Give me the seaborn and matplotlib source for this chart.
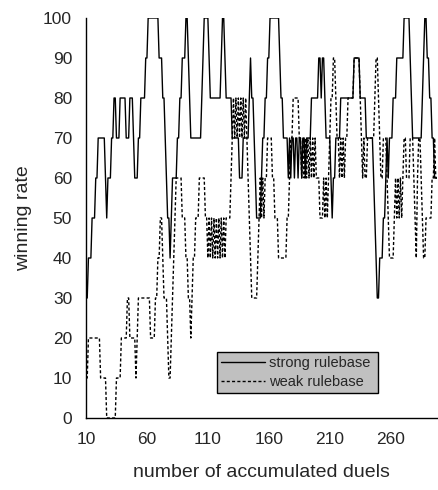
import matplotlib
matplotlib.use("Agg")
import matplotlib.pyplot as plt
import seaborn as sns
import pandas as pd

# winning rate (%) over the last duels, one value per duel from 10 to 298
strong = [
    30, 30, 40, 40, 40, 50, 50, 50, 60, 60,
    70, 70, 70, 70, 70, 70, 60, 50, 60, 60,
    60, 70, 70, 80, 80, 70, 70, 70, 80, 80,
    80, 80, 80, 70, 70, 70, 80, 80, 80, 70,
    60, 60, 60, 70, 70, 80, 80, 80, 80, 90,
    90, 100, 100, 100, 100, 100, 100, 100, 100, 100,
    90, 90, 90, 80, 80, 70, 60, 50, 50, 40,
    50, 60, 60, 60, 60, 70, 70, 80, 80, 90,
    90, 90, 100, 100, 90, 80, 70, 70, 70, 70,
    70, 70, 70, 70, 70, 80, 90, 100, 100, 100,
    100, 90, 80, 80, 80, 80, 80, 80, 80, 80,
    80, 90, 100, 100, 90, 80, 80, 80, 80, 80,
    70, 70, 70, 70, 70, 70, 60, 60, 60, 70,
    70, 70, 70, 70, 80, 90, 80, 80, 70, 60,
    50, 50, 50, 50, 60, 70, 70, 80, 80, 90,
    90, 100, 100, 100, 100, 100, 100, 100, 100, 90,
    80, 80, 70, 70, 70, 70, 60, 70, 60, 70,
    70, 60, 70, 70, 60, 70, 70, 60, 70, 70,
    60, 70, 70, 70, 70, 80, 80, 80, 80, 80,
    80, 90, 90, 80, 90, 90, 80, 70, 70, 70,
    70, 60, 50, 60, 60, 70, 70, 70, 70, 80,
    80, 80, 80, 80, 80, 80, 80, 80, 80, 80,
    90, 90, 90, 90, 90, 80, 80, 80, 80, 80,
    70, 70, 70, 70, 70, 70, 60, 50, 40, 30,
    30, 40, 40, 40, 50, 50, 60, 70, 60, 70,
    70, 70, 80, 80, 80, 90, 90, 90, 90, 90,
    90, 100, 100, 100, 100, 100, 90, 80, 70, 70,
    70, 70, 70, 70, 70, 70, 80, 90, 100, 100,
    90, 90, 80, 80, 70, 70, 60, 60, 60,
]

weak = [
    10, 10, 20, 20, 20, 20, 20, 20, 20, 20,
    20, 20, 10, 10, 10, 10, 10, 0, 0, 0,
    0, 0, 0, 0, 0, 10, 10, 10, 10, 20,
    20, 20, 20, 20, 30, 30, 20, 20, 20, 20,
    20, 10, 20, 30, 30, 30, 30, 30, 30, 30,
    30, 30, 30, 20, 20, 20, 20, 30, 30, 40,
    40, 50, 50, 40, 30, 30, 30, 20, 10, 10,
    20, 30, 40, 50, 60, 60, 60, 60, 60, 50,
    50, 50, 40, 40, 30, 30, 20, 30, 40, 40,
    50, 50, 50, 60, 60, 60, 60, 60, 50, 50,
    40, 50, 40, 50, 40, 50, 40, 50, 40, 50,
    40, 50, 40, 50, 40, 50, 50, 50, 50, 60,
    70, 80, 70, 80, 70, 80, 70, 80, 70, 80,
    70, 80, 70, 60, 50, 40, 30, 30, 30, 30,
    30, 40, 50, 60, 50, 60, 50, 60, 60, 70,
    70, 70, 70, 60, 60, 50, 50, 50, 40, 40,
    40, 40, 40, 40, 40, 50, 50, 60, 70, 70,
    80, 80, 80, 80, 80, 70, 70, 60, 70, 60,
    70, 60, 70, 60, 70, 60, 70, 60, 70, 60,
    60, 60, 50, 50, 50, 60, 50, 60, 50, 60,
    70, 80, 80, 90, 90, 80, 70, 70, 60, 70,
    60, 70, 60, 70, 70, 80, 80, 80, 80, 80,
    90, 90, 90, 90, 90, 80, 70, 60, 70, 60,
    60, 70, 70, 70, 70, 70, 70, 80, 90, 90,
    80, 70, 60, 60, 70, 70, 70, 60, 50, 40,
    40, 40, 40, 50, 60, 50, 60, 50, 60, 50,
    60, 70, 70, 60, 60, 60, 70, 70, 70, 60,
    50, 40, 60, 70, 70, 60, 50, 40, 40, 50,
    50, 50, 50, 50, 60, 60, 70, 60, 60,
]

duels = list(range(10, 10 + len(strong)))
x_ticks = [10, 60, 110, 160, 210, 260]
y_ticks = list(range(0, 101, 10))

df = pd.DataFrame({
    "duels": duels * 2,
    "rate": strong + weak,
    "series": ["strong rulebase"] * len(strong) + ["weak rulebase"] * len(weak),
})

sns.set_style("white")
plt.rcParams["font.family"] = ["Liberation Sans", "DejaVu Sans"]

fig = plt.figure(figsize=(4.39, 4.90), dpi=100)
ax = fig.add_axes([86 / 439, 72 / 490, 351 / 439, 400 / 490])

sns.lineplot(data=df, x="duels", y="rate", style="series",
             dashes={"strong rulebase": "", "weak rulebase": (2.2, 1.6)},
             color="black", linewidth=1.0, ax=ax)

ax.set_xlim(10, 298)
ax.set_ylim(0, 100)
ax.set_xticks(x_ticks)
ax.set_yticks(y_ticks)
ax.tick_params(axis="both", labelsize=12.5, length=5, width=1, color="black",
               direction="out", pad=5)
for side in ["top", "right"]:
    ax.spines[side].set_visible(False)
for side in ["left", "bottom"]:
    ax.spines[side].set_color("black")
    ax.spines[side].set_linewidth(1.0)

ax.set_xlabel("number of accumulated duels", fontsize=14, labelpad=12)
ax.set_ylabel("winning rate", fontsize=14, labelpad=8)

leg = ax.legend(loc="lower left", bbox_to_anchor=(0.373, 0.0625, 0.459, 0.1175),
                mode="expand", fontsize=10.5, frameon=True, fancybox=False,
                handlelength=3.0, borderaxespad=0, borderpad=0.3,
                labelspacing=0.3, handletextpad=0.3)
leg.get_frame().set_facecolor("#c0c0c0")
leg.get_frame().set_edgecolor("black")
leg.get_frame().set_linewidth(1.0)
leg.get_frame().set_alpha(1)

fig.savefig("out.png", dpi=100)
